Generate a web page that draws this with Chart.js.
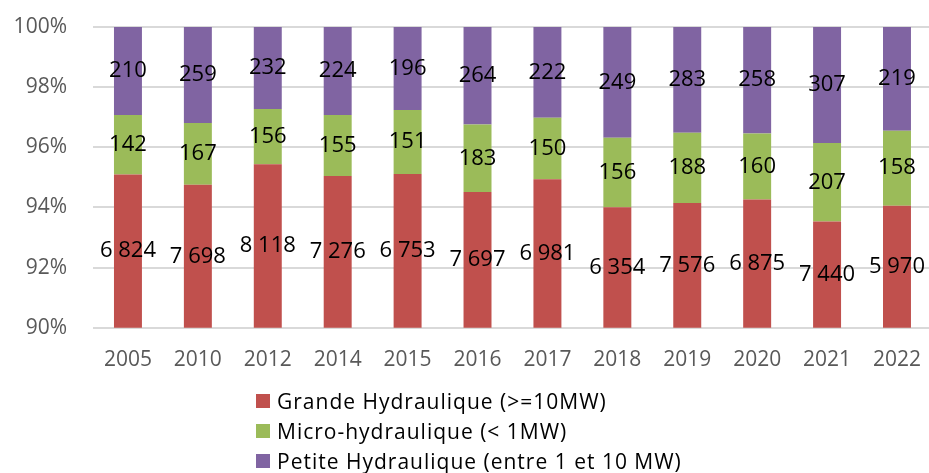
<!DOCTYPE html>
<html>
<head>
<meta charset="utf-8">
<script src="https://cdn.jsdelivr.net/npm/chart.js@4.4.1/dist/chart.umd.min.js"></script>
<style>
    html, body { margin: 0; padding: 0; background: #fff; overflow: hidden; }
    #wrap { position: relative; width: 929px; height: 473px; overflow: hidden; }
    #chart { position: absolute; left: 0; top: 0; }
    #legend { position: absolute; left: 256px; top: 386px; font-family: "Open Sans", sans-serif; font-size: 21px; letter-spacing: 1px; color: #000; }
    #legend .row { display: flex; align-items: center; height: 30px; white-space: nowrap; }
    #legend .box { width: 14px; height: 14px; margin-right: 7px; }
</style>
</head>
<body>
<div id="wrap">
    <canvas id="chart" width="933" height="473"></canvas>
    <div id="legend"></div>
</div>
<script>
        const years = ['2005', '2010', '2012', '2014', '2015', '2016', '2017', '2018', '2019', '2020', '2021', '2022'];
        const grande = [6824, 7698, 8118, 7276, 6753, 7697, 6981, 6354, 7576, 6875, 7440, 5970];
        const micro = [142, 167, 156, 155, 151, 183, 150, 156, 188, 160, 207, 158];
        const petite = [210, 259, 232, 224, 196, 264, 222, 249, 283, 258, 307, 219];
        const yTicks = [90, 92, 94, 96, 98, 100];

        const seriesNames = ['Grande Hydraulique (>=10MW)', 'Micro-hydraulique (< 1MW)', 'Petite Hydraulique (entre 1 et 10 MW)'];
        const seriesColors = ['#C0504D', '#9BBB59', '#8064A2'];

        function formatNumber(num) {
            return num.toString().replace(/\B(?=(\d{3})+(?!\d))/g, " ");
        }

        // share of each year's total, as in a 100% stacked chart
        const totals = years.map((y, i) => grande[i] + micro[i] + petite[i]);
        function toPercent(arr) {
            return arr.map((v, i) => v / totals[i] * 100);
        }

        const rawSeries = [grande, micro, petite];

        // value labels centred on the visible part of each segment
        const valueLabels = {
            id: 'valueLabels',
            afterDatasetsDraw(chart) {
                const ctx = chart.ctx;
                const area = chart.chartArea;
                ctx.save();
                ctx.font = '22px "Open Sans", sans-serif';
                ctx.fillStyle = '#000';
                ctx.textAlign = 'center';
                ctx.textBaseline = 'middle';
                chart.data.datasets.forEach((ds, di) => {
                    const meta = chart.getDatasetMeta(di);
                    meta.data.forEach((bar, i) => {
                        const p = bar.getProps(['x', 'y', 'base'], true);
                        const top = Math.max(Math.min(p.y, p.base), area.top);
                        const bottom = Math.min(Math.max(p.y, p.base), area.bottom);
                        ctx.fillText(formatNumber(rawSeries[di][i]), p.x, (top + bottom) / 2);
                    });
                });
                ctx.restore();
            }
        };

        // legend as a plain list under the chart
        const htmlLegend = {
            id: 'htmlLegend',
            afterUpdate(chart) {
                const box = document.getElementById('legend');
                box.innerHTML = '';
                const items = chart.options.plugins.legend.labels.generateLabels(chart);
                items.forEach(item => {
                    const row = document.createElement('div');
                    row.className = 'row';
                    const sw = document.createElement('span');
                    sw.className = 'box';
                    sw.style.background = item.fillStyle;
                    const txt = document.createElement('span');
                    txt.textContent = item.text;
                    row.appendChild(sw);
                    row.appendChild(txt);
                    box.appendChild(row);
                });
            }
        };

        const ctx = document.getElementById('chart').getContext('2d');
        new Chart(ctx, {
            type: 'bar',
            data: {
                labels: years,
                datasets: rawSeries.map((arr, i) => ({
                    label: seriesNames[i],
                    data: toPercent(arr),
                    backgroundColor: seriesColors[i],
                    borderWidth: 0,
                    barPercentage: 0.4,
                    categoryPercentage: 1
                }))
            },
            options: {
                responsive: false,
                devicePixelRatio: 1,
                animation: false,
                layout: {
                    padding: { top: 27, bottom: 88, left: 0, right: 0 }
                },
                plugins: {
                    legend: { display: false },
                    tooltip: { enabled: false }
                },
                scales: {
                    x: {
                        stacked: true,
                        grid: { display: false },
                        border: { display: false },
                        ticks: {
                            color: '#595959',
                            font: { family: 'Open Sans', size: 21 },
                            padding: 12
                        }
                    },
                    y: {
                        stacked: true,
                        min: 90,
                        max: 100,
                        afterFit(scale) {
                            // fixed axis width; tick padding should not push the plot down
                            scale.width = 93;
                            scale.paddingTop = 0;
                            scale.paddingBottom = 0;
                        },
                        afterBuildTicks(scale) {
                            scale.ticks = yTicks.map(v => ({ value: v }));
                        },
                        grid: { color: '#d9d9d9', lineWidth: 2, drawTicks: false },
                        border: { display: false },
                        ticks: {
                            color: '#595959',
                            font: { family: 'Open Sans', size: 21 },
                            padding: 26,
                            callback: v => v + '%'
                        }
                    }
                }
            },
            plugins: [valueLabels, htmlLegend]
        });
</script>
</body>
</html>
